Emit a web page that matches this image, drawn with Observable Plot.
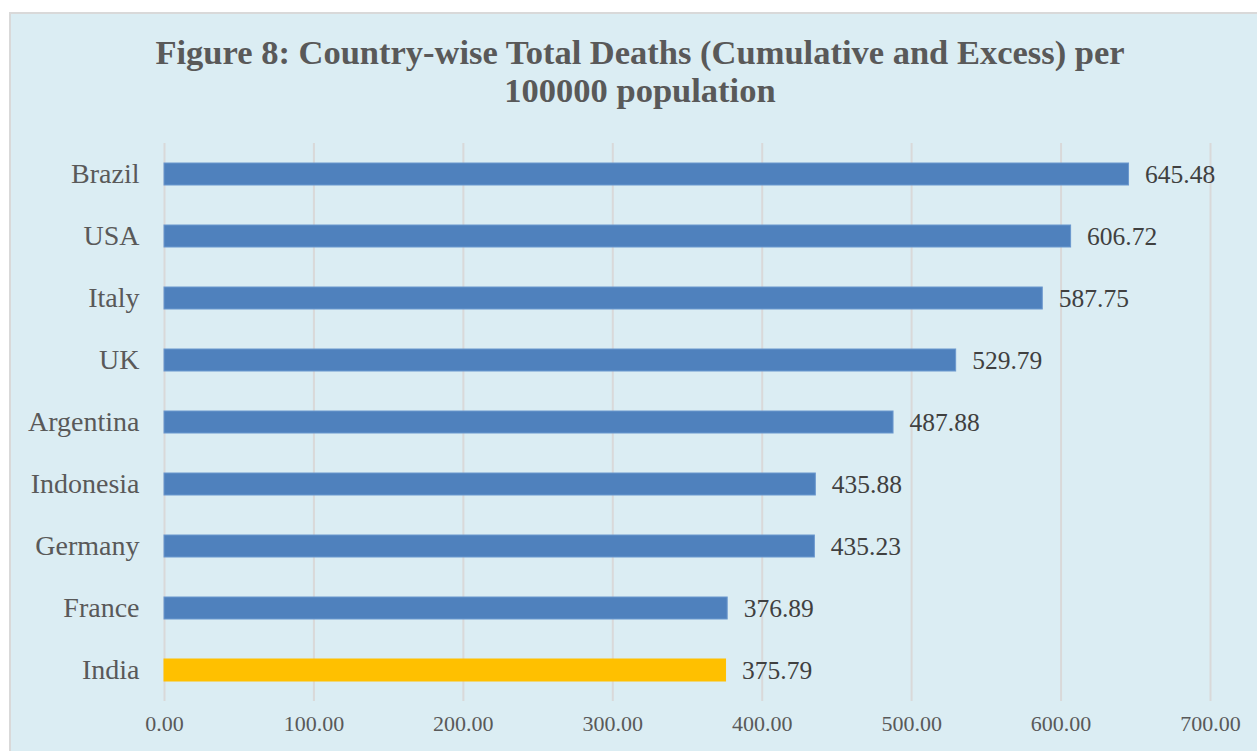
<!DOCTYPE html>
<html>
<head>
<meta charset="utf-8">
<script src="https://cdn.jsdelivr.net/npm/d3@7"></script>
<script src="https://cdn.jsdelivr.net/npm/@observablehq/plot@0.6"></script>
<style>
  html, body { margin: 0; padding: 0; background: #ffffff; }
  body { width: 1257px; height: 751px; position: relative; overflow: hidden; font-family: "Liberation Serif", "DejaVu Serif", serif; }
  #frame { position: absolute; left: 9px; top: 12px; width: 1260px; height: 760px; background: #DBEDF3; border: 2px solid #D9D9D9; box-sizing: border-box; }
  #title { position: absolute; left: 0; top: 33px; width: 1280px; text-align: center; font-weight: bold; font-size: 34.5px; line-height: 38px; color: #595959; }
  #chart { position: absolute; left: 0; top: 131px; }
</style>
</head>
<body>
<div id="frame"></div>
<div id="title">Figure 8: Country-wise Total Deaths (Cumulative and Excess) per<br>100000 population</div>
<div id="chart"></div>
<script>
const countries = ["Brazil", "USA", "Italy", "UK", "Argentina", "Indonesia", "Germany", "France", "India"];
const deaths = [645.48, 606.72, 587.75, 529.79, 487.88, 435.88, 435.23, 376.89, 375.79];
const highlight = ["India"];
const xTicks = [0, 100, 200, 300, 400, 500, 600, 700];

const data = countries.map((c, i) => ({country: c, value: deaths[i], hi: highlight.includes(c)}));

const plot = Plot.plot({
  width: 1257,
  height: 620,
  marginLeft: 164,
  marginRight: 47,
  marginTop: 12,
  marginBottom: 50,
  style: {background: "transparent", fontFamily: "'Liberation Serif', serif", color: "#595959"},
  x: {domain: [0, 700], ticks: xTicks, label: null},
  y: {domain: countries, paddingInner: 0.645, paddingOuter: 0.3225, label: null},
  marks: [
    Plot.gridX(xTicks, {stroke: "#D9D9D9", strokeOpacity: 1, strokeWidth: 2}),
    Plot.barX(data, {x: "value", y: "country", fill: d => d.hi ? "#FFC000" : "#4F81BD", stroke: d => d.hi ? "#FFC000" : "#6B98CE", strokeWidth: 1}),
    Plot.text(data, {x: "value", y: "country", text: d => d.value.toFixed(2), dx: 16, textAnchor: "start", fontSize: 25.5, fill: "#404040"}),
    Plot.axisY({tickSize: 0, tickPadding: 25, fontSize: 28, fill: "#595959"}),
    Plot.axisX({ticks: xTicks, tickSize: 0, tickPadding: 14, fontSize: 22, fill: "#595959", tickFormat: d => d.toFixed(2)})
  ]
});
document.getElementById("chart").appendChild(plot);
</script>
</body>
</html>
